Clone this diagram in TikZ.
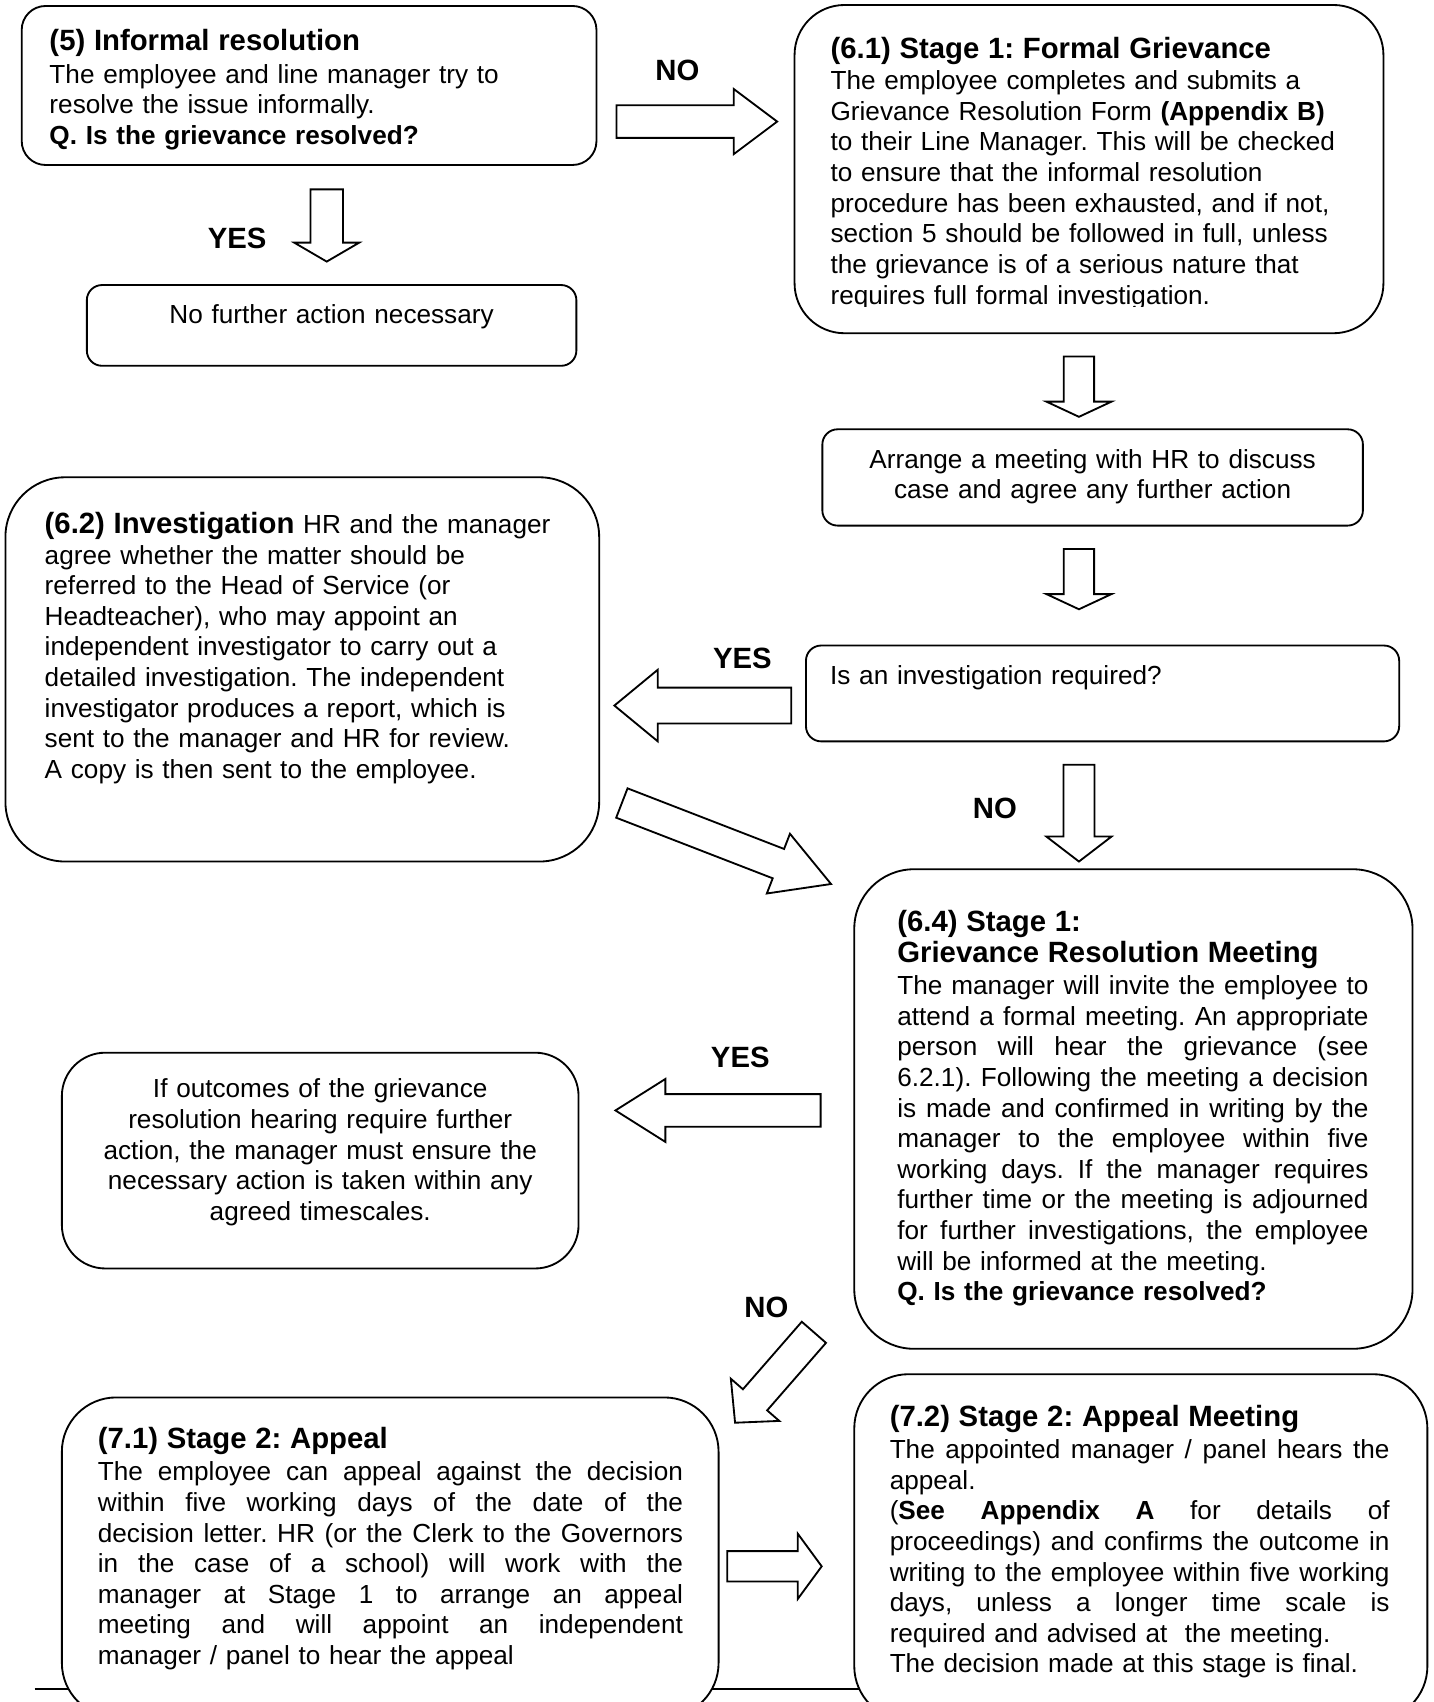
\documentclass[tikz,border=0pt]{standalone}
\usepackage{fontspec}
\setmainfont{Liberation Sans}
\usetikzlibrary{calc}
\def\jw{400pt}
\newcommand{\J}[1]{{\spaceskip=0.278em plus 1fil\relax\makebox[\jw][s]{#1}}}
\newcommand{\myttl}[1]{{\fontsize{27}{28.2}\selectfont\bfseries #1}}
\newcommand{\myttlpar}[2]{{\fontsize{27}{28.5}\selectfont\bfseries #2\par}\vspace{#1}}
\newcommand{\blockarrow}[5]{%
  \draw[barrow] ($(#1)!#3!90:(#2)$) -- ($(#2)!#5!(#1)!#3!90:(#2)$) -- ($(#2)!#5!(#1)!#4!90:(#2)$) -- (#2)
    -- ($(#2)!#5!(#1)!#4!-90:(#2)$) -- ($(#2)!#5!(#1)!#3!-90:(#2)$) -- ($(#1)!#3!-90:(#2)$) -- cycle;}
\tikzset{
  box/.style={draw, line width=1.7pt, fill=white, inner sep=0pt, outer sep=0pt},
  barrow/.style={draw, line width=1.7pt, fill=white, line join=miter},
  txt/.style={inner sep=0pt, anchor=base west, align=left, font=\fontsize{24.1}{28.2}\selectfont\frenchspacing},
  txtc/.style={inner sep=0pt, anchor=base, align=center, font=\fontsize{24.1}{28.2}\selectfont\frenchspacing},
  lbl/.style={inner sep=0pt, anchor=base, font=\fontsize{27}{28}\selectfont\bfseries}
}
\begin{document}
\frenchspacing
\begin{tikzpicture}[x=1pt,y=-1pt]
\useasboundingbox (0,0) rectangle (1320.2,1568);
\clip (0,0) rectangle (1320.2,1568);
\fill[white] (0,0) rectangle (1320.2,1568);

% footnote rule
\coordinate (ruleL) at (32,1556);
\coordinate (ruleR) at (800,1556);
\draw[line width=1.1pt] (ruleL) -- (ruleR);

% boxes
\node[box, rounded corners=22pt, minimum width=529.5pt, minimum height=146.5pt] (bA) at (284.75,78.75) {};
\node[box, rounded corners=14pt, minimum width=451pt, minimum height=74.4pt] (bB) at (305.5,299.8) {};
\node[box, rounded corners=46pt, minimum width=542.5pt, minimum height=302.4pt] (bC) at (1003.25,155.8) {};
\node[box, rounded corners=14pt, minimum width=498pt, minimum height=88.7pt] (bD) at (1006.6,439.85) {};
\node[box, rounded corners=14pt, minimum width=546.5pt, minimum height=88.3pt] (bE) at (1015.75,638.85) {};
\node[box, rounded corners=55pt, minimum width=547pt, minimum height=354pt] (bF) at (278.5,616.7) {};
\node[box, rounded corners=55pt, minimum width=514.3pt, minimum height=441.8pt] (bG) at (1044.15,1021.7) {};
\node[box, rounded corners=40pt, minimum width=476pt, minimum height=198.8pt] (bH) at (295,1069.2) {};
\node[box, rounded corners=50pt, minimum width=605pt, minimum height=294.6pt] (bI) at (359.5,1434.7) {};
\node[box, rounded corners=50pt, minimum width=528pt, minimum height=319pt] (bJ) at (1051,1425.5) {};

% texts
\node[txt, text width=500pt] (tA) at (45.4,46.5) {\myttlpar{2pt}{(5) Informal resolution}%
The employee and line manager try to\\
resolve the issue informally.\\
\textbf{Q. Is the grievance resolved?}};

\node[txtc, text width=440pt] (tB) at (305.5,298) {No further action necessary};

\begin{scope}
\clip (700,0) rectangle (1300,282);
\node[txt, text width=500pt] (tC) at (765,53.5) {\myttlpar{1pt}{(6.1) Stage 1: Formal Grievance}%
The employee completes and submits a\\
Grievance Resolution Form \textbf{(Appendix B)}\\
to their Line Manager. This will be checked\\
to ensure that the informal resolution\\
procedure has been exhausted, and if not,\\
section 5 should be followed in full, unless\\
the grievance is of a serious nature that\\
requires full formal investigation.};
\end{scope}

\node[txtc, text width=490pt] (tD) at (1006.6,431.5) {Arrange a meeting with HR to discuss\\
case and agree any further action};

\node[txt, text width=500pt] (tE) at (764.6,630.5) {Is an investigation required?};

\node[txt, text width=500pt] (tF) at (41,491.5) {\myttl{(6.2) Investigation} HR and the manager\\
agree whether the matter should be\\
referred to the Head of Service (or\\
Headteacher), who may appoint an\\
independent investigator to carry out a\\
detailed investigation. The independent\\
investigator produces a report, which is\\
sent to the manager and HR for review.\\
A copy is then sent to the employee.};

\node[txt, text width=440pt] (tG) at (826.5,858) {\def\jw{434pt}\myttlpar{1.6pt}{(6.4) Stage 1:\\Grievance Resolution Meeting}%
\J{The manager will invite the employee to}\\
\J{attend a formal meeting. An appropriate}\\
\J{person will hear the grievance (see}\\
\J{6.2.1). Following the meeting a decision}\\
\J{is made and confirmed in writing by the}\\
\J{manager to the employee within five}\\
\J{working days. If the manager requires}\\
\J{further time or the meeting is adjourned}\\
\J{for further investigations, the employee}\\
will be informed at the meeting.\\
\textbf{Q. Is the grievance resolved?}};

\node[txtc, text width=465pt] (tH) at (295,1011.5) {If outcomes of the grievance\\
resolution hearing require further\\
action, the manager must ensure the\\
necessary action is taken within any\\
agreed timescales.};

\node[txt, text width=545pt] (tI) at (90,1334.5) {\def\jw{539pt}\myttlpar{1.6pt}{(7.1) Stage 2: Appeal}%
\J{The employee can appeal against the decision}\\
\J{within five working days of the date of the}\\
\J{decision letter. HR (or the Clerk to the Governors}\\
\J{in the case of a school) will work with the}\\
\J{manager at Stage 1 to arrange an appeal}\\
\J{meeting and will appoint an independent}\\
manager / panel to hear the appeal};

\node[txt, text width=466pt] (tJ) at (819.5,1314) {\def\jw{460.5pt}\myttlpar{1.6pt}{(7.2) Stage 2: Appeal Meeting}%
\J{The appointed manager / panel hears the}\\
appeal.\\
\J{(\textbf{See Appendix A} for details of}\\
\J{proceedings) and confirms the outcome in}\\
\J{writing to the employee within five working}\\
\J{days, unless a longer time scale is}\\
required and advised at\ \ the meeting.\\
The decision made at this stage is final.};

% labels
\node[lbl] (lNO1) at (624,74) {NO};
\node[lbl] (lYES1) at (218.5,229) {YES};
\node[lbl] (lYES2) at (684,616) {YES};
\node[lbl] (lNO2) at (916.6,754) {NO};
\node[lbl] (lYES3) at (682,983) {YES};
\node[lbl] (lNO3) at (706,1214) {NO};

% block arrows
\coordinate (a1t) at (568,112);      \coordinate (a1h) at (716,112);
\coordinate (a2t) at (301,174.5);    \coordinate (a2h) at (301,241);
\coordinate (a3t) at (994,328.5);    \coordinate (a3h) at (994,384);
\coordinate (a4t) at (994,505.8);    \coordinate (a4h) at (994,561.3);
\coordinate (a5t) at (729,650);      \coordinate (a5h) at (566,650);
\coordinate (a6t) at (994,704.6);    \coordinate (a6h) at (994,793.7);
\coordinate (a7t) at (572.9,739.8);  \coordinate (a7h) at (765.6,814.4);
\coordinate (a8t) at (756,1023);     \coordinate (a8h) at (567,1023);
\coordinate (a9t) at (749.8,1227.4); \coordinate (a9h) at (677.2,1310.7);
\coordinate (a10t) at (670,1443);    \coordinate (a10h) at (757,1443);

\blockarrow{a1t}{a1h}{15pt}{30pt}{40pt}
\blockarrow{a2t}{a2h}{15pt}{30pt}{17.5pt}
\blockarrow{a3t}{a3h}{14pt}{30pt}{14pt}
\blockarrow{a4t}{a4h}{14pt}{30pt}{14pt}
\blockarrow{a5t}{a5h}{16.5pt}{33pt}{40pt}
\blockarrow{a6t}{a6h}{14.3pt}{30pt}{23pt}
\blockarrow{a7t}{a7h}{14.5pt}{29.5pt}{52pt}
\blockarrow{a8t}{a8h}{15pt}{29pt}{46pt}
\blockarrow{a9t}{a9h}{14.8pt}{29.6pt}{28pt}
\blockarrow{a10t}{a10h}{14pt}{30pt}{22pt}
\end{tikzpicture}
\end{document}
